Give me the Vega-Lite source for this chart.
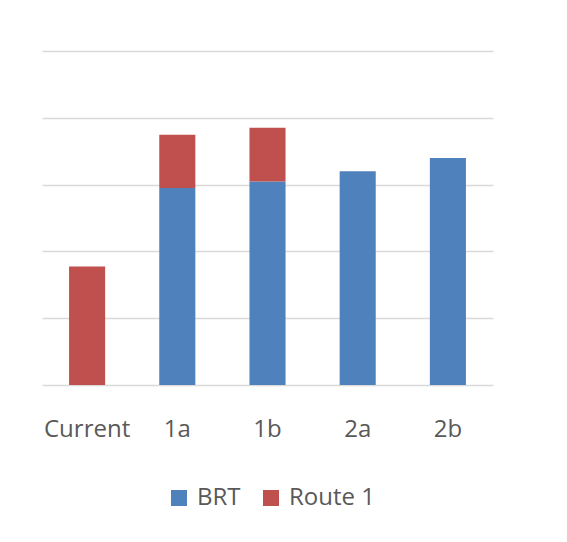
{
  "$schema": "https://vega.github.io/schema/vega-lite/v6.json",
  "autosize": {"type": "none"},
  "padding": {"left": 42, "top": 51, "right": 74, "bottom": 157},
  "width": 451,
  "height": 334,
  "background": "white",
  "data": {
    "values": [
      {"scenario": "Current", "series": "Route 1", "value": 1.775},
      {"scenario": "1a", "series": "BRT", "value": 2.95},
      {"scenario": "1a", "series": "Route 1", "value": 0.797},
      {"scenario": "1b", "series": "BRT", "value": 3.048},
      {"scenario": "1b", "series": "Route 1", "value": 0.804},
      {"scenario": "2a", "series": "BRT", "value": 3.198},
      {"scenario": "2b", "series": "BRT", "value": 3.398}
    ]
  },
  "mark": {"type": "bar"},
  "encoding": {
    "x": {
      "field": "scenario",
      "type": "nominal",
      "sort": ["Current", "1a", "1b", "2a", "2b"],
      "scale": {"paddingInner": 0.6, "paddingOuter": 0.3},
      "axis": {
        "title": null,
        "labelAngle": 0,
        "domain": false,
        "ticks": false,
        "labelFont": "Open Sans",
        "labelFontSize": 24,
        "labelColor": "#595959",
        "labelPadding": 32
      }
    },
    "y": {
      "field": "value",
      "type": "quantitative",
      "stack": "zero",
      "scale": {"domain": [0, 5], "nice": false},
      "axis": {
        "title": null,
        "labels": false,
        "ticks": false,
        "domain": false,
        "values": [0, 1, 2, 3, 4, 5],
        "gridColor": "#d9d9d9",
        "gridWidth": 1.5,
        "gridOpacity": 1
      }
    },
    "color": {
      "field": "series",
      "type": "nominal",
      "scale": {"domain": ["BRT", "Route 1"], "range": ["#4f81bd", "#c0504d"]},
      "legend": {
        "title": null,
        "orient": "none",
        "legendX": 125,
        "legendY": 435,
        "direction": "horizontal",
        "symbolType": "square",
        "symbolSize": 256,
        "symbolStrokeWidth": 0,
        "labelFont": "Open Sans",
        "labelFontSize": 24,
        "labelColor": "#595959",
        "labelOffset": 6,
        "columnPadding": 18
      }
    },
    "order": {"field": "series", "sort": "ascending"}
  },
  "config": {
    "view": {"stroke": null}
  }
}
